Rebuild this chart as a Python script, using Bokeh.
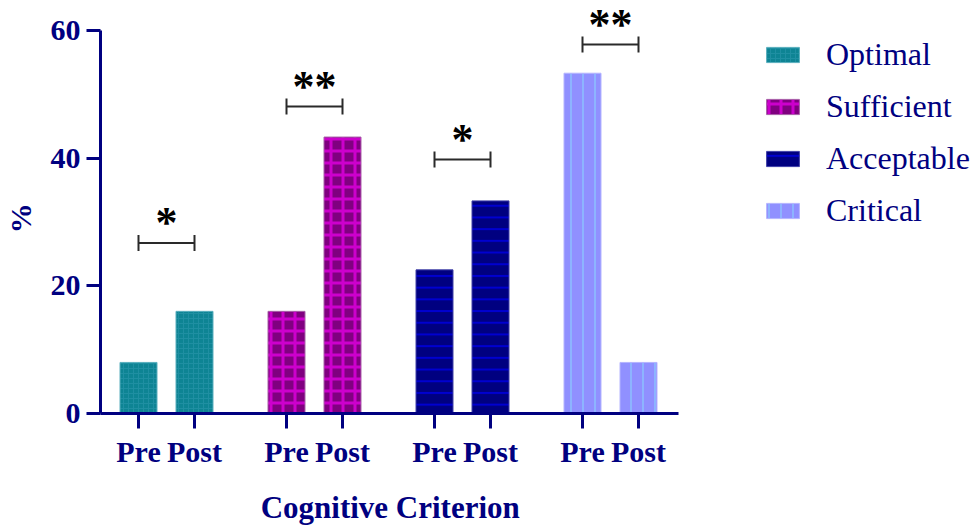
import numpy as np
from bokeh.plotting import figure
from bokeh.models import Range1d, FixedTicker, Legend, LegendItem, ColumnDataSource, LabelSet
from bokeh.embed import file_html
from bokeh.resources import INLINE

# ---- data ----
criteria = ["Optimal", "Sufficient", "Acceptable", "Critical"]
phase_labels = ["Pre", "Post"]
pre_values = [8.0, 16.0, 22.5, 53.3]
post_values = [16.0, 43.3, 33.3, 8.0]
sig_labels = ["*", "**", "*", "**"]
sig_heights = [26.7, 48.1, 39.8, 57.8]
y_ticks = [0, 20, 40, 60]
x_title = "Cognitive Criterion"
y_title = "%"

# ---- style ----
NAVY = "#000080"
fill_colors = ["#0E8494", "#800080", "#000080", "#9090FF"]
line_colors = ["#5AAFBE", "#A860A8", "#4040A8", "#B4B4FF"]
hatch_colors = ["#1F8FA2", "#CC00CC", "#0000D0", "#8CC0FF"]

GROUP_PITCH = 148
PAIR_STEP = 56
FIRST = 38
BAR_W = 37
X_END = 578
NBSP = "\u00a0"

idx = np.arange(len(criteria))
x_pre = FIRST + GROUP_PITCH * idx
x_post = x_pre + PAIR_STEP

p = figure(width=974, height=527, x_range=Range1d(0, 874), y_range=Range1d(0, 64.69),
           output_backend="svg", toolbar_location=None,
           min_border_left=100, min_border_right=0, min_border_top=0, min_border_bottom=113)
p.outline_line_color = None
p.xgrid.visible = False
p.ygrid.visible = False
p.background_fill_color = "white"

hatch_specs = [
    dict(hatch_pattern="cross", hatch_scale=5, hatch_weight=1),
    dict(hatch_pattern="cross", hatch_scale=12, hatch_weight=3),
    dict(hatch_pattern="horizontal_line", hatch_scale=11.7, hatch_weight=2),
    dict(hatch_pattern="vertical_line", hatch_scale=12, hatch_weight=1.5),
]

renderers = []
for i, name in enumerate(criteria):
    src = ColumnDataSource(dict(x=[x_pre[i], x_post[i]], top=[pre_values[i], post_values[i]]))
    r = p.vbar(x="x", top="top", bottom=0, width=BAR_W, source=src,
               fill_color=fill_colors[i], line_color=line_colors[i], line_width=1,
               hatch_color=hatch_colors[i], **hatch_specs[i])
    renderers.append(r)

# significance brackets
h = np.array(sig_heights)
CAP = 1.25
br = dict(line_color="#2a2a2a", line_width=2)
p.segment(x0=x_pre, x1=x_post, y0=h, y1=h, **br)
p.segment(x0=x_pre, x1=x_pre, y0=h - CAP, y1=h + CAP, **br)
p.segment(x0=x_post, x1=x_post, y0=h - CAP, y1=h + CAP, **br)
star_src = ColumnDataSource(dict(x=(x_pre + x_post) / 2, y=h + 3.15, text=sig_labels))
p.add_layout(LabelSet(x="x", y="y", text="text", source=star_src, text_align="center",
                      text_baseline="middle", text_font="Liberation Sans", text_font_style="bold",
                      text_font_size="44px", text_color="black"))

# axes
xa = p.xaxis[0]
ticks_x = [int(v) for pair in zip(x_pre, x_post) for v in pair]
xa.ticker = FixedTicker(ticks=ticks_x)
xa.major_label_overrides = {t: phase_labels[k % 2] for k, t in enumerate(ticks_x)}
xa.bounds = (0, X_END)
# trailing no-break spaces shift the centred title under the drawn axis line
xa.axis_label = x_title + NBSP * 38

ya = p.yaxis[0]
ya.ticker = FixedTicker(ticks=y_ticks)
ya.bounds = (y_ticks[0], y_ticks[-1])
ya.axis_label = y_title + NBSP * 3

for ax in (xa, ya):
    ax.axis_line_color = NAVY
    ax.axis_line_width = 3
    ax.major_tick_line_color = NAVY
    ax.major_tick_line_width = 3
    ax.major_tick_in = 0
    ax.minor_tick_line_color = None
    ax.major_label_text_font = "Liberation Serif"
    ax.major_label_text_font_style = "bold"
    ax.major_label_text_font_size = "30px"
    ax.major_label_text_color = NAVY
    ax.axis_label_text_font = "Liberation Serif"
    ax.axis_label_text_font_style = "bold"
    ax.axis_label_text_color = NAVY

xa.major_tick_out = 15
xa.major_label_standoff = 6
xa.axis_label_text_font_size = "31px"
xa.axis_label_standoff = 19
ya.major_tick_out = 14
ya.major_label_standoff = 6
ya.axis_label_text_font_size = "30px"
ya.axis_label_standoff = 11

legend = Legend(items=[LegendItem(label=c, renderers=[r]) for c, r in zip(criteria, renderers)],
                location=(662, 184), glyph_width=41, glyph_height=19, label_standoff=23,
                spacing=15, padding=0, margin=0, border_line_color=None,
                background_fill_alpha=0, label_text_font="Liberation Serif",
                label_text_font_size="32px", label_text_color=NAVY, label_height=35)
p.add_layout(legend)

open("out.html", "w").write(file_html(p, INLINE))
